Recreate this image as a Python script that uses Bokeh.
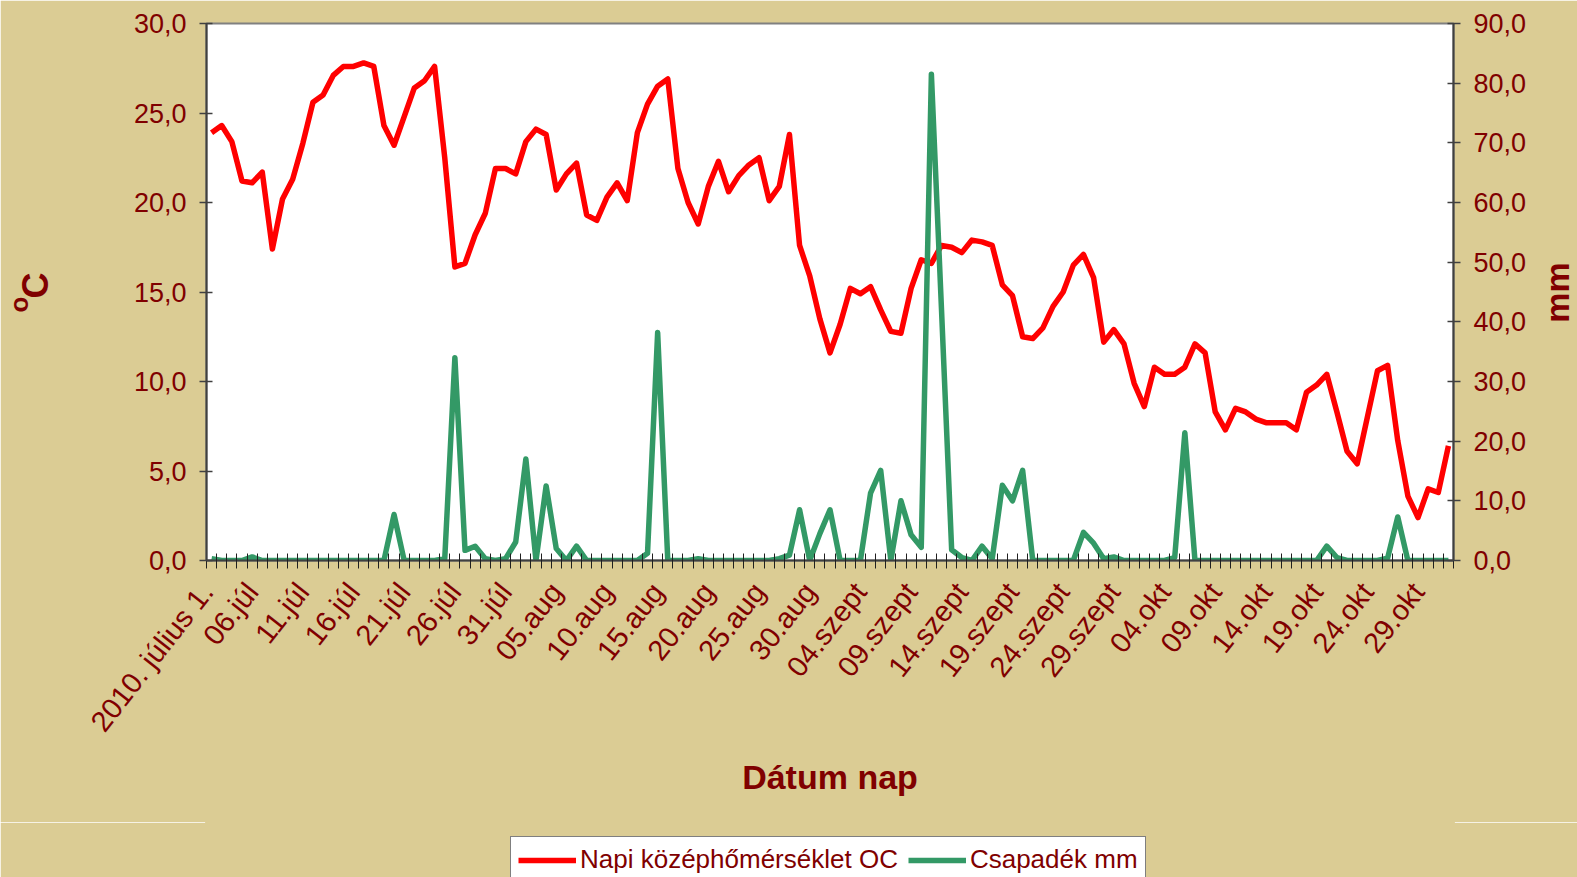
import math
from bokeh.plotting import figure
from bokeh.layouts import column
from bokeh.models import (Range1d, LinearAxis, FixedTicker, CustomJSTickFormatter,
                          Legend, LegendItem, Label)
from bokeh.embed import file_html
from bokeh.resources import INLINE

# ---------------- data ----------------
days = list(range(123))  # 2010-07-01 .. 2010-10-31

temperature = [
    23.9, 24.3, 23.4, 21.2, 21.1, 21.7, 17.4, 20.2, 21.3, 23.3,
    25.6, 26.0, 27.1, 27.6, 27.6, 27.8, 27.6, 24.3, 23.2, 24.8,
    26.4, 26.8, 27.6, 22.5, 16.4, 16.6, 18.2, 19.4, 21.9, 21.9,
    21.6, 23.4, 24.1, 23.8, 20.7, 21.6, 22.2, 19.3, 19.0, 20.3,
    21.1, 20.1, 23.9, 25.5, 26.5, 26.9, 21.9, 20.0, 18.8, 20.9,
    22.3, 20.6, 21.5, 22.1, 22.5, 20.1, 20.9, 23.8, 17.6, 15.9,
    13.5, 11.6, 13.2, 15.2, 14.9, 15.3, 14.0, 12.8, 12.7, 15.2,
    16.8, 16.6, 17.6, 17.5, 17.2, 17.9, 17.8, 17.6, 15.4, 14.8,
    12.5, 12.4, 13.0, 14.2, 15.0, 16.5, 17.1, 15.8, 12.2, 12.9,
    12.1, 9.9, 8.6, 10.8, 10.4, 10.4, 10.8, 12.1, 11.6, 8.3,
    7.3, 8.5, 8.3, 7.9, 7.7, 7.7, 7.7, 7.3, 9.4, 9.8,
    10.4, 8.3, 6.1, 5.4, 8.0, 10.6, 10.9, 6.7, 3.6, 2.4,
    4.0, 3.8, 6.4,
]

precipitation = [
    0.3, 0.0, 0.0, 0.0, 0.6, 0.0, 0.0, 0.0, 0.0, 0.0,
    0.0, 0.0, 0.0, 0.0, 0.0, 0.0, 0.0, 0.0, 7.7, 0.0,
    0.0, 0.0, 0.0, 0.3, 34.0, 1.7, 2.4, 0.3, 0.0, 0.3,
    3.1, 17.0, 0.0, 12.5, 2.0, 0.0, 2.4, 0.0, 0.0, 0.0,
    0.0, 0.0, 0.0, 1.2, 38.2, 0.0, 0.0, 0.0, 0.3, 0.0,
    0.0, 0.0, 0.0, 0.0, 0.0, 0.0, 0.3, 0.9, 8.5, 0.0,
    4.5, 8.5, 0.0, 0.0, 0.0, 11.3, 15.1, 0.0, 10.0, 4.3,
    2.2, 81.5, 42.0, 1.8, 0.5, 0.0, 2.4, 0.3, 12.6, 10.0,
    15.1, 0.0, 0.0, 0.0, 0.0, 0.0, 4.7, 2.9, 0.3, 0.6,
    0.0, 0.0, 0.0, 0.0, 0.0, 0.5, 21.4, 0.0, 0.0, 0.0,
    0.0, 0.0, 0.0, 0.0, 0.0, 0.0, 0.0, 0.0, 0.0, 0.0,
    2.4, 0.5, 0.0, 0.0, 0.0, 0.0, 0.4, 7.3, 0.0, 0.0,
    0.0, 0.0, 0.0,
]

tick_days = list(range(0, 123, 5))
tick_labels = [
    "2010. július 1.", "06.júl", "11.júl", "16.júl", "21.júl", "26.júl", "31.júl",
    "05.aug", "10.aug", "15.aug", "20.aug", "25.aug", "30.aug",
    "04.szept", "09.szept", "14.szept", "19.szept", "24.szept", "29.szept",
    "04.okt", "09.okt", "14.okt", "19.okt", "24.okt", "29.okt",
]

temp_ticks = [0, 5, 10, 15, 20, 25, 30]
prec_ticks = [0, 10, 20, 30, 40, 50, 60, 70, 80, 90]

# ---------------- style ----------------
BG = "#DBCC94"
MAROON = "#800000"
RED = "#FF0000"
GREEN = "#339966"
AXIS = "#404040"
FONT = "Liberation Sans"

W = 1577
H_MAIN = 822
H_LEG = 877 - H_MAIN

p = figure(width=W, height=H_MAIN, output_backend="svg", toolbar_location=None,
           x_range=Range1d(-0.5, 122.5), y_range=Range1d(0, 30),
           min_border_left=206, min_border_right=124, min_border_top=23,
           min_border_bottom=H_MAIN - 23 - 537)
p.extra_y_ranges = {"prec": Range1d(0, 90)}

p.background_fill_color = "white"
p.border_fill_color = BG
p.outline_line_color = "#808080"
p.outline_line_width = 2
p.xgrid.visible = False
p.ygrid.visible = False

r_temp = p.line(days, temperature, line_color=RED, line_width=5.5, line_join="round")
r_prec = p.line(days, precipitation, line_color=GREEN, line_width=5.5, line_join="round",
                y_range_name="prec")

fmt = CustomJSTickFormatter(code="return tick.toFixed(1).replace('.', ',');")


def style_y(ax, standoff):
    ax.axis_line_color = AXIS
    ax.axis_line_width = 2
    ax.major_tick_line_color = AXIS
    ax.major_tick_line_width = 1.5
    ax.major_tick_in = 6
    ax.major_tick_out = 7
    ax.minor_tick_line_color = None
    ax.major_label_text_color = MAROON
    ax.major_label_text_font = FONT
    ax.major_label_text_font_size = "27px"
    ax.major_label_standoff = standoff


# left axis
ya = p.yaxis[0]
ya.ticker = FixedTicker(ticks=temp_ticks)
ya.formatter = fmt
style_y(ya, 13)

# right axis
ra = LinearAxis(y_range_name="prec", ticker=FixedTicker(ticks=prec_ticks), formatter=fmt)
style_y(ra, 13)
p.add_layout(ra, "right")

# bottom axis: labels sit just left of their day (Excel style)
label_pos = [d - 1.0 if d > 0 else d - 0.45 for d in tick_days]
xa = p.xaxis[0]
xa.ticker = FixedTicker(ticks=label_pos, minor_ticks=[d - 0.5 for d in range(124)])
xa.major_label_overrides = {pos: lab for pos, lab in zip(label_pos, tick_labels)}
xa.major_label_orientation = math.radians(52)
xa.axis_line_color = AXIS
xa.axis_line_width = 2
xa.major_tick_line_color = None
xa.major_tick_in = 0
xa.major_tick_out = 0
xa.minor_tick_line_color = "#202020"
xa.minor_tick_line_width = 1
xa.minor_tick_in = 7
xa.minor_tick_out = 8
xa.major_label_text_color = MAROON
xa.major_label_text_font = FONT
xa.major_label_text_font_size = "29px"
xa.major_label_standoff = 18
xa.axis_label = "Dátum nap"
xa.axis_label_text_color = MAROON
xa.axis_label_text_font = FONT
xa.axis_label_text_font_size = "34px"
xa.axis_label_text_font_style = "bold"
xa.axis_label_standoff = 8


# vertical axis titles placed in the side panels (reading bottom-to-top)
def side_title(text, side, x, y, size):
    lab = Label(x=x, y=y, x_units="screen", y_units="screen", text=text,
                angle=math.pi / 2, text_align="center", text_baseline="middle",
                text_font=FONT, text_font_size=size, text_font_style="bold",
                text_color=MAROON)
    p.add_layout(lab, side)


side_title("C", "left", -54, 275, "36px")
side_title("o", "left", -41, 256, "26px")
side_title("mm", "right", 27, 268, "34px")

# ---------------- legend strip ----------------
q = figure(width=W, height=H_LEG, output_backend="svg", toolbar_location=None,
           x_range=Range1d(-1000, -999), y_range=Range1d(0, 1),
           x_axis_location=None, y_axis_location=None, min_border=0)
q.background_fill_color = BG
q.border_fill_color = BG
q.outline_line_color = BG
q.outline_line_width = 3
q.xgrid.visible = False
q.ygrid.visible = False
lt = q.line(days, temperature, line_color=RED, line_width=5.5)
lp = q.line(days, precipitation, line_color=GREEN, line_width=5.5)

legend = Legend(items=[LegendItem(label="Napi középhőmérséklet OC", renderers=[lt]),
                       LegendItem(label="Csapadék mm", renderers=[lp])],
                location=(304, -6), orientation="horizontal")
legend.label_text_font = FONT
legend.label_text_font_size = "26px"
legend.label_text_color = MAROON
legend.glyph_width = 58
legend.glyph_height = 30
legend.label_standoff = 4
legend.spacing = 10
legend.padding = 7
legend.margin = 0
legend.border_line_color = "black"
legend.border_line_width = 1
legend.background_fill_color = "white"
legend.background_fill_alpha = 1.0
q.add_layout(legend)

layout = column(p, q, spacing=0)
open("out.html", "w").write(file_html(layout, INLINE))
